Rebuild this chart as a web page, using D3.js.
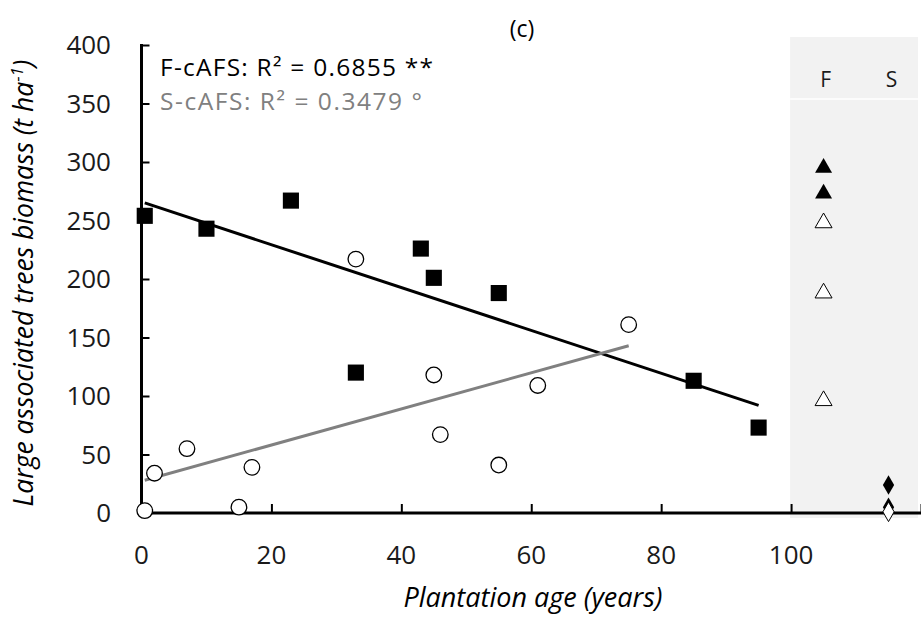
<!DOCTYPE html>
<html>
<head>
<meta charset="utf-8">
<script src="https://cdn.jsdelivr.net/npm/d3@7"></script>
<style>
  body { margin: 0; background: #fff; }
  svg { display: block; font-family: "Open Sans", "Noto Sans", sans-serif; }
</style>
</head>
<body>
<svg id="chart" width="921" height="628"></svg>
<script>
// ---- data ----
const fAge = [0.5, 10, 23, 33, 43, 45, 55, 85, 95];
const fBiomass = [254, 243, 267, 120, 226, 201, 188, 113, 73];
const sAge = [0.5, 2, 7, 15, 17, 33, 45, 46, 55, 61, 75];
const sBiomass = [2, 34, 55, 5, 39, 217, 118, 67, 41, 109, 161];
const fTrend = [[0.5, 265], [95, 92]];
const sTrend = [[0.5, 28], [75, 143]];
// reference panel (F = forest, S = savanna)
const refFX = 105, refSX = 115;
const refFFilled = [295, 273];
const refFOpen = [248, 188, 96];
const refSFilled = [24, 5];
const refSOpen = [1];
const xTicks = [0, 20, 40, 60, 80, 100, 120];
const yTicks = [0, 50, 100, 150, 200, 250, 300, 350, 400];
const legendLabels = ["F-cAFS: R² = 0.6855 **", "S-cAFS: R² = 0.3479 °"];
const legendColors = ["#000", "#808080"];
const panelLabels = ["F", "S"];

const svg = d3.select("#chart");
const x = d3.scaleLinear().domain([0, 120]).range([141.5, 921]);
const y = d3.scaleLinear().domain([0, 400]).range([513, 45]);
const grey = "#808080";
const ink = "#1a1a1a";

// shaded reference panel
svg.append("rect")
  .attr("x", x(100) - 1).attr("y", 37)
  .attr("width", x(120) - x(100) - 2).attr("height", 518 - 37)
  .attr("fill", "#f2f2f2");
svg.append("line")
  .attr("x1", x(100) - 1).attr("x2", x(120) - 3)
  .attr("y1", 99).attr("y2", 99)
  .attr("stroke", "#fff").attr("stroke-width", 1.5);
svg.selectAll(".plab").data(panelLabels).join("text")
  .attr("x", (d, i) => x(i === 0 ? refFX : refSX) + (i === 0 ? 2 : 3)).attr("y", 87)
  .attr("text-anchor", "middle").attr("font-size", 21).attr("fill", ink).text(d => d);

// axes
const yAxis = d3.axisRight(y).tickValues(yTicks).tickSize(8).tickFormat("");
const gy = svg.append("g").attr("transform", `translate(${x(0)},0)`).call(yAxis);
gy.select(".domain").remove();
gy.selectAll(".tick line").attr("stroke", "#000").attr("stroke-width", 2);
svg.append("line").attr("x1", x(0)).attr("x2", x(0)).attr("y1", y(400) - 1).attr("y2", y(0) + 1.5)
  .attr("stroke", "#000").attr("stroke-width", 3);

const xAxis = d3.axisTop(x).tickValues(xTicks).tickSize(9).tickFormat("");
const gx = svg.append("g").attr("transform", `translate(0,${y(0)})`).call(xAxis);
gx.select(".domain").remove();
gx.selectAll(".tick line").attr("stroke", "#000").attr("stroke-width", 2);
svg.append("line").attr("x1", x(0) - 1.5).attr("x2", x(120)).attr("y1", y(0)).attr("y2", y(0))
  .attr("stroke", "#000").attr("stroke-width", 3);

// tick labels
svg.selectAll(".ylab").data(yTicks).join("text")
  .attr("x", 111).attr("y", d => y(d) + 9)
  .attr("text-anchor", "end").attr("font-size", 26).attr("fill", ink).text(d => d);
svg.selectAll(".xlab").data(xTicks.filter(d => d <= 100)).join("text")
  .attr("x", d => x(d)).attr("y", 564)
  .attr("text-anchor", "middle").attr("font-size", 26).attr("fill", ink).text(d => d);

// axis titles
svg.append("text").attr("x", 533).attr("y", 607).attr("text-anchor", "middle")
  .attr("font-size", 27).attr("font-style", "italic").attr("fill", "#000").text("Plantation age (years)");
const yt = svg.append("text").attr("transform", "translate(33,283) rotate(-90)")
  .attr("text-anchor", "middle").attr("font-size", 26.5).attr("font-style", "italic").attr("fill", "#000");
yt.append("tspan").text("Large associated trees biomass  (t ha");
yt.append("tspan").attr("dy", -10).attr("font-size", 17).text("-1");
yt.append("tspan").attr("dy", 10).text(")");

// title
svg.append("text").attr("x", 522).attr("y", 37).attr("text-anchor", "middle")
  .attr("font-size", 23).attr("fill", "#000").text("(c)");

// legend text
svg.selectAll(".leg").data(legendLabels).join("text")
  .attr("x", 160).attr("y", (d, i) => 76 + i * 34)
  .attr("font-size", 24.5).attr("fill", (d, i) => legendColors[i])
  .attr("textLength", (d, i) => i === 0 ? 273 : 262).attr("lengthAdjust", "spacing")
  .text(d => d);

// trend lines
const line = d3.line().x(d => x(d[0])).y(d => y(d[1]));
svg.append("path").attr("d", line(fTrend)).attr("stroke", "#000").attr("stroke-width", 3).attr("fill", "none");
svg.append("path").attr("d", line(sTrend)).attr("stroke", grey).attr("stroke-width", 3).attr("fill", "none");

// points
const sq = d3.symbol().type(d3.symbolSquare).size(260)();
const tri = d3.symbol().type(d3.symbolTriangle).size(125)();
const dia = d3.symbol().type(d3.symbolDiamond).size(110)();

svg.selectAll(".sp").data(d3.zip(sAge, sBiomass)).join("circle")
  .attr("cx", d => x(d[0])).attr("cy", d => y(d[1])).attr("r", 7.8)
  .attr("fill", "#fff").attr("stroke", "#000").attr("stroke-width", 1.3);
svg.selectAll(".fp").data(d3.zip(fAge, fBiomass)).join("path")
  .attr("d", sq).attr("transform", d => `translate(${x(d[0])},${y(d[1])})`)
  .attr("fill", "#000");

svg.selectAll(".rff").data(refFFilled).join("path")
  .attr("d", tri).attr("transform", d => `translate(${x(refFX)},${y(d)})`).attr("fill", "#000");
svg.selectAll(".rfo").data(refFOpen).join("path")
  .attr("d", tri).attr("transform", d => `translate(${x(refFX)},${y(d)})`)
  .attr("fill", "#fff").attr("stroke", "#000").attr("stroke-width", 1);
svg.selectAll(".rsf").data(refSFilled).join("path")
  .attr("d", dia).attr("transform", d => `translate(${x(refSX)},${y(d)})`).attr("fill", "#000");
svg.selectAll(".rso").data(refSOpen).join("path")
  .attr("d", dia).attr("transform", d => `translate(${x(refSX)},${y(d)})`)
  .attr("fill", "#fff").attr("stroke", "#000").attr("stroke-width", 1);
</script>
</body>
</html>
